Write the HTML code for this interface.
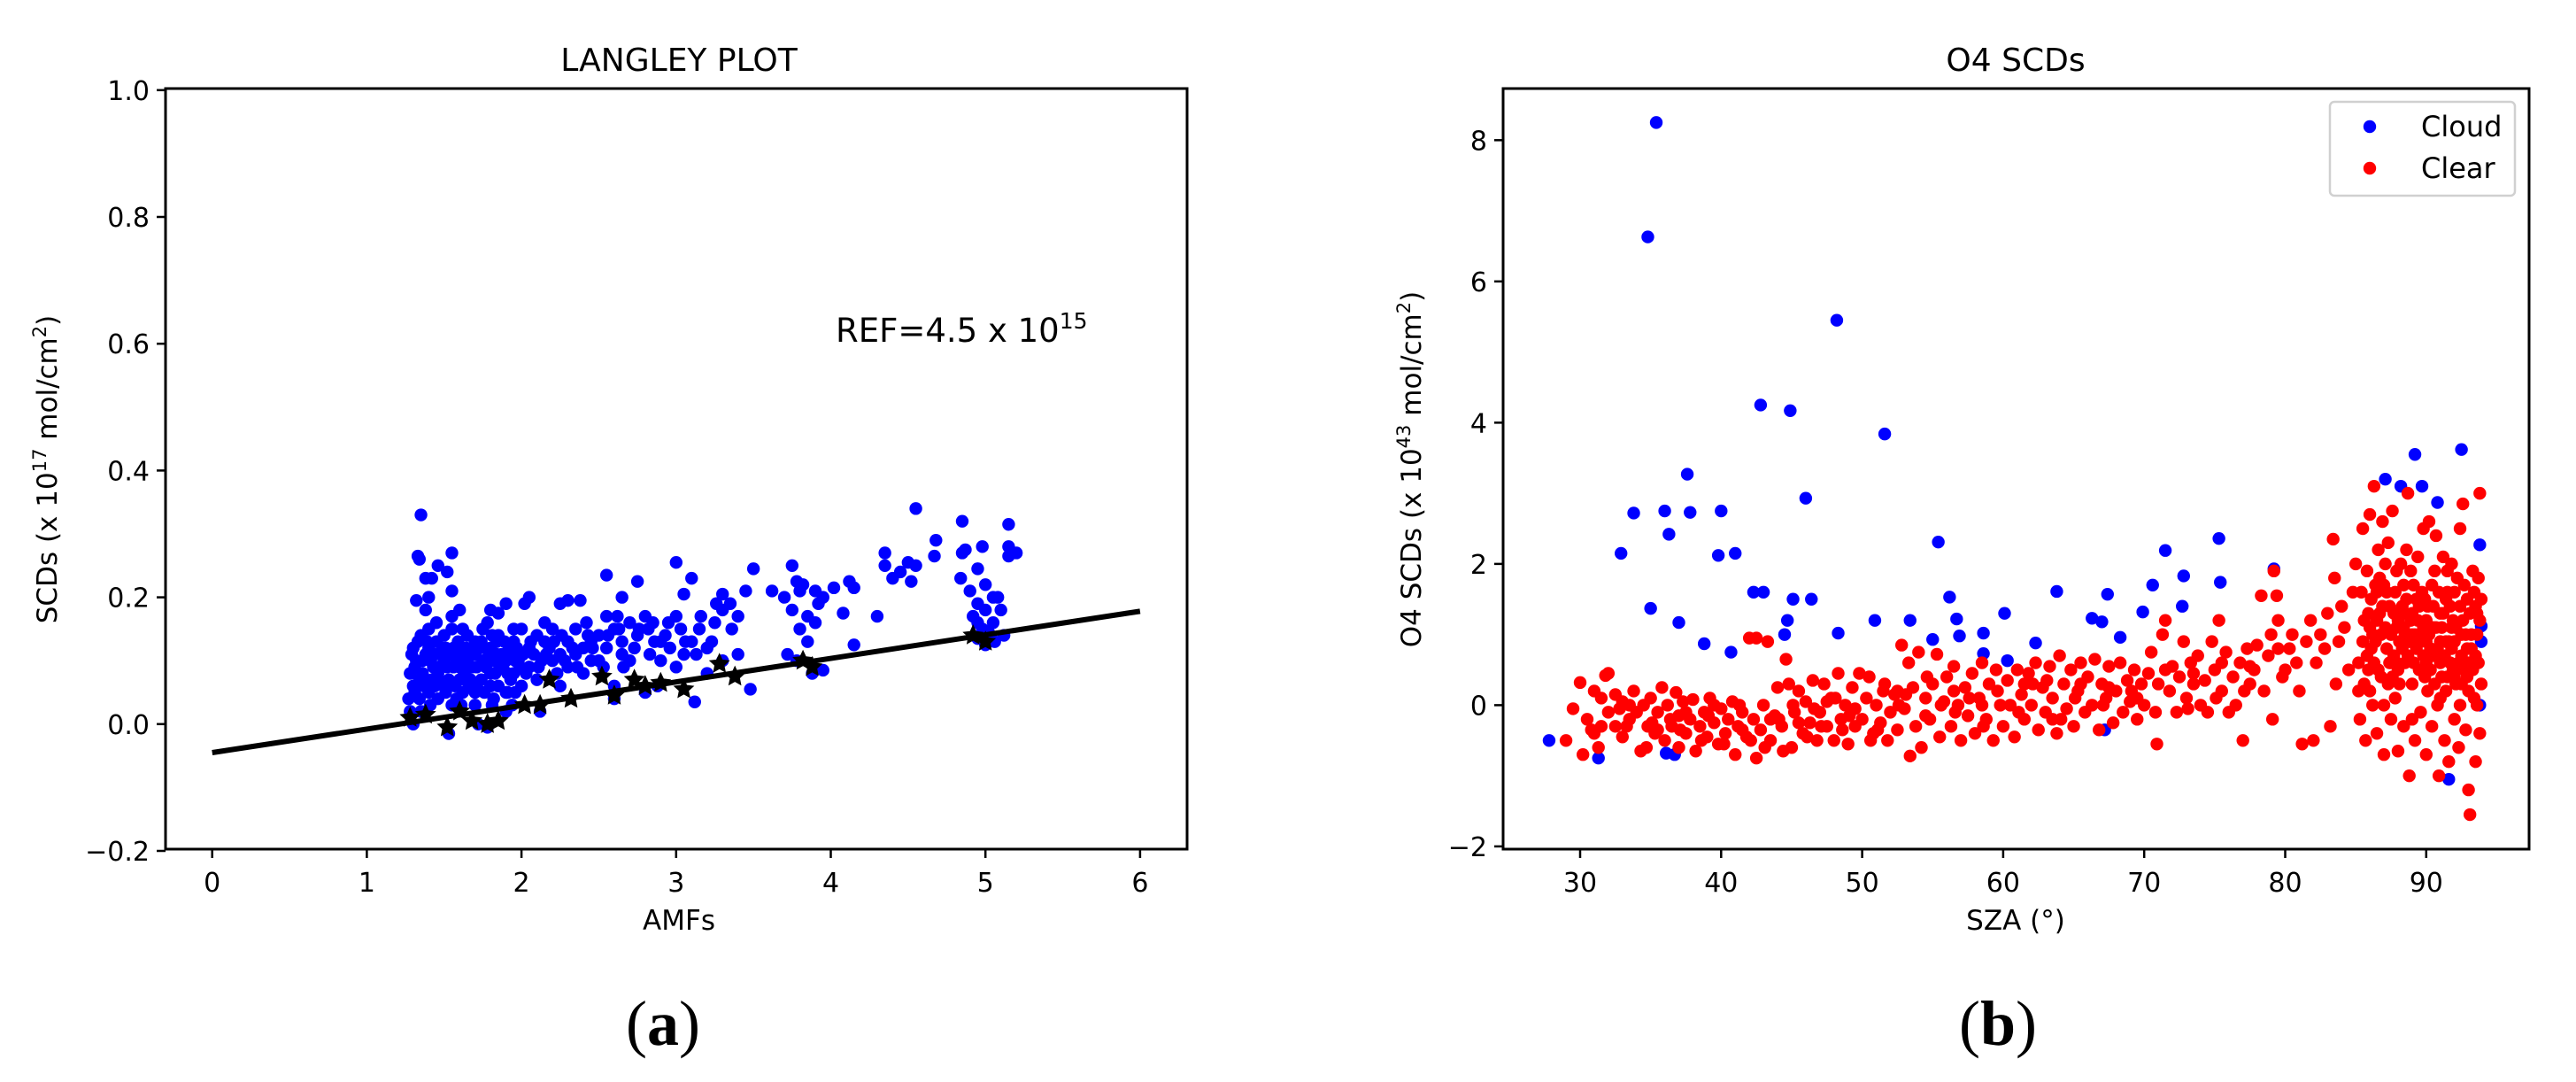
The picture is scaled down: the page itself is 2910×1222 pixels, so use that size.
<!DOCTYPE html>
<html><head><meta charset="utf-8">
<style>
html,body{margin:0;padding:0;background:#fff;}
svg{display:block;font-family:"DejaVu Sans","Liberation Sans",sans-serif;}
</style></head>
<body>
<svg id="fig" width="2910" height="1222" viewBox="0 0 2910 1222" xmlns="http://www.w3.org/2000/svg">
<rect width="2910" height="1222" fill="#fff"/>
<g id="left"></g>
<g id="right"></g>
<text x="749" y="1180" font-family="'Liberation Serif',serif" font-size="72" text-anchor="middle">(<tspan font-weight="bold">a</tspan>)</text>
<text x="2257" y="1180" font-family="'Liberation Serif',serif" font-size="72" text-anchor="middle">(<tspan font-weight="bold">b</tspan>)</text>
</svg>
<script>
// ---------- Panel (a) data ----------
const langleyXTicks = [0,1,2,3,4,5,6];
const langleyYTicks = [-0.2,0.0,0.2,0.4,0.6,0.8,1.0];
const langleyYTickLabels = ["\u22120.2","0.0","0.2","0.4","0.6","0.8","1.0"];
const langleyFitLine = [[0,-0.045],[6,0.178]];
const langleyBlue = [[1.35,0.33],[1.33,0.265],[1.34,0.26],[1.38,0.23],[1.42,0.23],[1.46,0.25],[1.52,0.24],[1.55,0.27],[1.55,0.21],[1.32,0.195],[1.4,0.2],[1.38,0.18],[1.6,0.18],[1.55,0.17],[1.8,0.18],[1.85,0.175],[1.9,0.19],[2.05,0.2],[2.02,0.19],[2.25,0.19],[2.3,0.195],[2.38,0.195],[2.55,0.235],[2.65,0.2],[2.75,0.225],[3.0,0.255],[3.05,0.205],[3.1,0.23],[3.3,0.205],[3.5,0.245],[3.45,0.21],[3.62,0.21],[3.75,0.25],[3.78,0.225],[3.82,0.22],[3.9,0.21],[4.02,0.215],[4.12,0.225],[4.15,0.215],[4.3,0.17],[4.35,0.27],[4.35,0.25],[4.4,0.23],[4.45,0.24],[4.5,0.255],[4.55,0.34],[4.55,0.25],[4.52,0.225],[4.68,0.29],[4.67,0.265],[4.85,0.32],[4.87,0.275],[4.85,0.27],[4.84,0.23],[4.9,0.21],[4.95,0.245],[4.98,0.28],[5.0,0.22],[5.15,0.315],[5.15,0.28],[5.15,0.265],[5.2,0.27],[5.05,0.2],[5.08,0.2],[4.95,0.19],[5.0,0.18],[5.05,0.16],[4.98,0.15],[5.12,0.14],[5.0,0.125],[4.95,0.135],[4.92,0.17],[4.08,0.175],[4.15,0.125],[3.95,0.085],[3.88,0.08],[3.85,0.13],[3.8,0.15],[3.78,0.1],[3.72,0.11],[3.7,0.2],[3.85,0.17],[3.92,0.19],[3.95,0.2],[3.48,0.055],[3.4,0.17],[3.35,0.19],[3.3,0.18],[3.25,0.16],[3.15,0.15],[3.12,0.035],[3.2,0.08],[3.1,0.13],[3.0,0.17],[2.95,0.16],[2.9,0.13],[2.88,0.06],[2.85,0.16],[2.8,0.17],[2.75,0.14],[2.7,0.16],[2.65,0.11],[2.6,0.15],[2.55,0.17],[2.5,0.14],[2.45,0.13],[2.4,0.12],[2.35,0.15],[2.3,0.13],[2.3,0.09],[2.25,0.11],[2.2,0.15],[2.15,0.13],[2.1,0.14],[2.1,0.07],[2.12,0.02],[2.05,0.12],[2.0,0.15],[1.95,0.13],[1.9,0.05],[1.9,0.02],[1.85,0.14],[1.8,0.12],[1.75,0.15],[1.7,0.13],[1.65,0.14],[1.6,0.12],[1.55,0.15],[1.5,0.14],[1.45,0.13],[1.4,0.15],[1.35,0.14],[1.3,0.12],[1.28,0.08],[1.27,0.04],[1.3,0.0],[1.35,0.02],[1.4,0.05],[1.45,0.09],[1.5,0.06],[1.53,-0.015],[1.55,0.03],[1.6,0.07],[1.65,0.1],[1.7,0.05],[1.72,0.0],[1.78,-0.005],[1.8,0.08],[1.85,0.06],[1.9,0.1],[1.95,0.08],[2.0,0.06],[2.05,0.09],[2.2,0.1],[2.25,0.06],[2.4,0.08],[2.5,0.1],[2.6,0.06],[2.6,0.04],[2.7,0.1],[2.8,0.05],[2.9,0.1],[3.0,0.09],[3.05,0.11],[3.2,0.12],[3.3,0.1],[3.4,0.11],[1.32,0.1],[1.38,0.11],[1.42,0.07],[1.48,0.11],[1.52,0.09],[1.58,0.1],[1.62,0.05],[1.68,0.09],[1.75,0.1],[1.82,0.1],[1.88,0.09],[1.92,0.12],[1.98,0.1],[1.3,0.06],[1.36,0.08],[1.44,0.11],[1.56,0.12],[1.66,0.11],[1.74,0.07],[1.84,0.13],[1.96,0.05],[2.08,0.11],[2.18,0.12],[2.28,0.1],[2.35,0.11],[2.45,0.1],[2.55,0.12],[2.65,0.13],[1.34,0.04],[1.46,0.04],[1.58,0.04],[1.7,0.03],[1.82,0.04],[1.94,0.03],[1.4,0.12],[1.5,0.1],[1.6,0.09],[1.7,0.11],[1.8,0.06],[1.33,0.13],[1.43,0.09],[1.53,0.07],[1.63,0.08],[1.73,0.12],[1.83,0.08],[1.93,0.07],[1.28,0.02],[1.37,0.06],[1.47,0.07],[1.57,0.06],[1.67,0.07],[1.77,0.09],[1.87,0.11],[1.97,0.12],[2.03,0.08],[2.13,0.1],[2.23,0.08],[1.31,0.09],[1.41,0.1],[1.51,0.12],[1.61,0.11],[1.71,0.09],[1.81,0.14],[1.91,0.08],[2.01,0.11],[2.11,0.09],[2.21,0.13],[2.33,0.12],[2.43,0.14],[2.53,0.09],[2.63,0.15],[2.73,0.12],[2.83,0.11],[2.93,0.14],[3.03,0.15],[3.13,0.11],[3.23,0.13],
[1.29,0.11],[1.39,0.13],[1.49,0.12],[1.59,0.13],[1.69,0.12],[1.79,0.11],[1.89,0.13],[1.99,0.09],[1.31,0.05],[1.41,0.03],[1.51,0.05],[1.61,0.03],[1.71,0.06],[1.81,0.03],[1.91,0.05],[1.36,0.1],[1.46,0.08],[1.56,0.09],[1.66,0.06],[1.76,0.05],[1.86,0.09],[1.96,0.1],[1.34,0.07],[1.44,0.06],[1.54,0.11],[1.64,0.12],[1.74,0.13],[1.84,0.11],[1.94,0.11],[2.06,0.13],[2.16,0.11],[2.26,0.14],[2.36,0.09],[2.46,0.12],[2.56,0.14],[2.66,0.09],[2.76,0.15],[2.86,0.13],[2.96,0.12],[3.06,0.13],[3.16,0.17],[3.26,0.19],[3.36,0.15],[3.8,0.21],[3.9,0.16],[3.75,0.18],[4.95,0.16],[5.02,0.145],[5.1,0.18],[5.06,0.13],[1.45,0.16],[1.62,0.15],[1.78,0.16],[1.95,0.15],[2.15,0.16],[2.42,0.16],[2.62,0.17],[2.82,0.15]];
const langleyStars = [[1.28,0.01],[1.38,0.015],[1.52,-0.005],[1.6,0.02],[1.68,0.005],[1.78,0.0],[1.85,0.005],[2.02,0.03],[2.12,0.03],[2.18,0.07],[2.32,0.04],[2.52,0.075],[2.6,0.045],[2.73,0.07],[2.8,0.06],[2.9,0.065],[3.05,0.055],[3.28,0.095],[3.38,0.075],[3.82,0.1],[3.88,0.09],[4.92,0.14],[5.0,0.13]];

// ---------- Panel (b) data ----------
const o4XTicks = [30,40,50,60,70,80,90];
const o4YTicks = [-2,0,2,4,6,8];
const o4YTickLabels = ["\u22122","0","2","4","6","8"];
const o4Cloud = [[27.8,-0.5],[31.3,-0.75],[32.9,2.15],[33.8,2.72],[35.0,1.37],[34.8,6.63],[35.4,8.25],[36.0,2.75],[36.3,2.42],[37.0,1.17],[37.6,3.27],[37.8,2.73],[38.8,0.87],[39.8,2.12],[40.0,2.75],[40.7,0.75],[41.0,2.15],[42.3,1.6],[42.8,4.25],[43.0,1.6],[44.5,1.0],[44.7,1.2],[44.9,4.17],[45.1,1.5],[46.0,2.93],[46.4,1.5],[48.2,5.45],[48.3,1.02],[50.9,1.2],[51.6,3.84],[53.4,1.2],[55.0,0.93],[55.4,2.31],[56.2,1.53],[56.7,1.22],[56.9,0.98],[58.6,1.02],[58.6,0.73],[60.1,1.3],[60.3,0.63],[62.3,0.88],[63.8,1.61],[66.3,1.23],[67.0,1.18],[67.4,1.57],[68.3,0.96],[69.9,1.32],[70.6,1.7],[71.5,2.19],[72.7,1.4],[72.8,1.83],[75.3,2.36],[75.4,1.74],[79.2,1.93],[87.1,3.2],[88.2,3.1],[89.2,3.55],[89.7,3.1],[90.8,2.87],[91.6,-1.05],[92.5,3.62],[93.8,2.27],[93.9,1.12],[93.9,0.9],[93.8,0.0],[67.2,-0.35],[36.1,-0.68],[36.7,-0.7]];
const o4Clear = [[29,-0.5],[29.5,-0.05],[30,0.32],[30.2,-0.7],[30.5,-0.2],[31,0.2],[31,-0.4],[31.3,-0.6],[31.5,0.1],[31.8,0.42],[32,0.45],[32,-0.1],[32.5,-0.3],[32.5,0.15],[33,-0.45],[33,0.05],[33.5,-0.2],[33.8,0.2],[34,-0.1],[34.3,-0.65],[34.5,0.0],[34.8,-0.3],[35,0.1],[35.3,-0.4],[35.5,-0.1],[35.8,0.25],[36,-0.5],[36.2,0.0],[36.5,-0.3],[36.8,0.18],[37,-0.6],[37,-0.15],[37.3,0.05],[37.5,-0.4],[37.8,-0.2],[38,0.08],[38.2,-0.65],[38.5,-0.3],[38.8,-0.1],[39,-0.45],[39.2,0.1],[39.5,-0.25],[39.8,-0.55],[40,-0.05],[30.8,-0.35],[32.8,-0.05],[34.7,-0.6],[36.4,-0.2],[38.6,-0.5],[33.3,-0.3],[35.1,-0.25],[37.1,-0.35],[39.1,-0.15],
[40.3,-0.4],[40.5,-0.2],[40.8,0.05],[41,-0.7],[41.2,-0.3],[41.5,-0.1],[41.8,-0.45],[42,0.95],[42.3,-0.2],[42.5,0.95],[42.5,-0.75],[42.8,-0.35],[43,0.0],[43.3,0.9],[43.5,-0.5],[43.8,-0.15],[44,0.25],[44.3,-0.3],[44.6,0.65],[44.8,0.3],[45,-0.6],[45.2,-0.1],[45.5,0.2],[45.8,-0.4],[46,0.05],[46.3,-0.25],[46.5,0.35],[46.8,-0.5],[47,-0.1],[47.3,0.3],[47.5,-0.3],[47.8,0.1],[48,-0.5],[48.3,0.45],[48.5,-0.2],[48.8,0.0],[49,-0.55],[49.3,0.25],[49.5,-0.3],[49.8,0.45],[40.2,-0.55],[41.3,0.0],[42.1,-0.5],[43.1,-0.6],[44.1,-0.2],[45.1,0.0],[46.1,-0.45],[47.1,-0.3],[48.1,0.1],[49.1,-0.15],[44.4,-0.65],[46.6,-0.05],[48.6,-0.35],
[50,-0.2],[50.3,0.1],[50.5,0.4],[50.8,-0.4],[51,0.0],[51.3,-0.25],[51.5,0.2],[51.8,-0.5],[52,-0.1],[52.3,0.15],[52.5,-0.35],[52.8,0.85],[53,-0.05],[53.3,0.6],[53.4,-0.72],[53.6,0.25],[53.8,-0.3],[54,0.75],[54.2,-0.6],[54.5,0.1],[54.8,-0.2],[55,0.3],[55.3,0.72],[55.5,-0.45],[55.8,0.05],[56,0.4],[56.3,-0.3],[56.5,0.55],[56.8,0.0],[57,-0.5],[57.3,0.25],[57.5,-0.15],[57.8,0.45],[58,-0.4],[58.3,0.1],[58.5,0.6],[58.8,-0.2],[59,0.3],[59.3,-0.5],[59.5,0.5],[59.8,0.0],[50.6,-0.5],[51.6,0.3],[52.6,0.0],[54.6,0.4],[55.6,0.0],[56.6,-0.1],[57.6,0.1],[58.6,-0.3],[59.6,0.2],[53.1,0.15],[51.1,-0.35],
[60,-0.3],[60.3,0.35],[60.5,0.0],[60.8,-0.45],[61,0.5],[61.3,0.15],[61.5,-0.2],[61.8,0.45],[62,0.0],[62.3,0.6],[62.5,-0.35],[62.8,0.25],[63,-0.1],[63.3,0.55],[63.5,0.1],[63.8,-0.4],[64,0.7],[64.3,0.3],[64.5,-0.05],[64.8,0.5],[65,-0.3],[65.3,0.2],[65.5,0.6],[65.8,-0.1],[66,0.4],[66.3,0.0],[66.5,0.65],[66.8,-0.35],[67,0.3],[67.3,0.1],[67.5,0.55],[67.8,-0.25],[68,0.2],[68.3,0.6],[68.5,-0.1],[68.8,0.35],[69,0.05],[69.3,0.5],[69.5,-0.2],[69.8,0.3],[61.1,-0.1],[63.1,0.35],[65.1,0.1],[67.1,0.0],[69.1,0.2],[62.1,0.3],[64.1,-0.2],
[70,0.0],[70.3,0.45],[70.5,0.75],[70.8,-0.1],[70.9,-0.55],[71,0.3],[71.3,1.0],[71.5,1.2],[71.8,0.2],[72,0.55],[72.3,-0.1],[72.5,0.4],[72.8,0.9],[73,0.1],[73.3,0.6],[73.5,0.3],[73.8,0.7],[74,0.0],[74.3,0.35],[74.5,-0.1],[74.8,0.9],[75,0.5],[75.3,1.2],[75.5,0.2],[75.8,0.75],[76,-0.1],[76.3,0.4],[76.5,0.0],[76.8,0.6],[77,-0.5],[77.3,0.8],[77.5,0.3],[77.8,0.5],[78,0.85],[78.3,1.55],[78.5,0.2],[78.8,0.7],[79,1.0],[79.2,1.9],[79.4,1.55],[79.5,1.2],[79.8,0.4],[73.1,-0.05],[75.1,0.1],[77.1,0.2],[79.1,-0.2],
[80,0.5],[80.3,0.8],[80.5,1.0],[80.8,0.6],[81,0.2],[81.2,-0.55],[81.5,0.9],[81.8,1.2],[82,-0.5],[82.2,0.6],[82.5,1.0],[82.8,0.8],[83,1.3],[83.2,-0.3],[83.4,2.35],[83.5,1.8],[83.6,0.3],[83.8,0.9],[84,1.4],[84.2,1.1],[84.5,0.5],[84.8,1.6],
[85,2.0],[85.2,0.2],[85.3,-0.2],[85.5,2.5],[85.6,1.2],[85.7,-0.5],[85.8,0.7],[86,2.7],[86.1,1.5],[86.2,0.0],[86.3,3.1],[86.4,0.9],[86.5,-0.4],[86.6,2.2],[86.7,1.8],[86.8,0.4],[86.9,2.6],[87,-0.7],[87.1,1.1],[87.2,1.6],[87.3,2.3],[87.4,0.6],[87.5,-0.2],[87.6,2.75],[87.7,1.3],[87.8,0.1],[87.9,1.9],[88,-0.65],[88.1,0.9],[88.2,2.0],[88.3,1.4],[88.4,-0.3],[88.5,0.6],[88.6,2.2],[88.7,3.0],[88.8,-1.0],[88.9,1.2],[89,0.3],[89.1,1.7],[89.2,-0.5],[89.3,0.8],[89.4,2.1],[89.5,1.0],[89.6,-0.1],[89.7,0.5],[89.8,2.5],[89.9,1.5],[90,-0.7],[90.1,0.2],[90.2,2.6],[90.3,1.1],[90.4,-0.3],[90.5,0.7],[90.6,1.9],[90.7,2.4],[90.8,0.0],[90.9,-1.0],[91,1.3],[91.1,0.4],[91.2,2.1],[91.3,-0.5],[91.4,0.9],[91.5,1.6],[91.6,-0.8],[91.7,0.6],[91.8,2.0],[91.9,1.2],[92,-0.2],[92.1,0.3],[92.2,1.8],[92.3,-0.6],[92.4,2.5],[92.5,1.0],[92.6,2.85],[92.7,0.5],[92.8,-0.35],[92.9,1.5],[93,-1.2],[93.1,-1.55],[93.2,0.8],[93.3,1.9],[93.4,0.1],[93.5,-0.8],[93.6,1.3],[93.7,0.6],[93.8,3.0],[93.9,1.5],[93.9,0.3],[93.8,-0.4],
[85.5,0.9],[85.9,1.3],[86.2,1.0],[86.6,0.5],[86.9,1.4],[87.2,0.8],[87.5,1.0],[87.8,1.6],[88.1,0.3],[88.4,1.1],[88.7,0.7],[89,1.3],[89.3,1.5],[89.6,0.9],[89.9,0.4],[90.2,1.0],[90.5,1.4],[90.8,0.8],[91.1,1.1],[91.4,0.2],[91.7,1.4],[92,0.9],[92.3,0.6],[92.6,1.2],[92.9,0.4],[93.2,1.0],[93.5,0.7],[93.8,1.2],[86,0.2],[87,0.0],[88,0.5],[89,-0.2],[90,0.6],[91,0.1],[92,1.6],[93,0.2],[86.4,1.7],[87.4,1.4],[88.4,1.7],[89.4,1.2],[90.4,1.7],[91.4,1.5],[92.4,0.0],[93.4,1.6],[85.4,1.6],[85.2,0.6],[86.8,1.0],[87.6,0.4],[88.8,0.9],[89.7,1.6],[90.6,0.3],[91.6,0.9],[92.7,1.7],[93.6,0.0],
[85.8,1.9],[86.5,1.2],[87.1,2.0],[87.9,1.1],[88.5,1.3],[89.1,0.6],[89.8,1.1],[90.3,0.5],[90.9,1.6],[91.3,0.7],[91.9,0.5],[92.5,0.3],[93.1,1.3],[93.7,1.8],[86.3,0.6],[87.7,0.7],[88.9,1.9],[90.1,1.4],[91.5,1.9],[92.8,1.0],
[85.6,0.3],[86.1,0.8],[86.7,1.3],[87.3,0.3],[87.9,0.6],[88.3,0.8],[88.6,1.5],[89.2,1.0],[89.5,0.5],[90.0,1.2],[90.3,0.8],[90.7,1.1],[91.0,0.6],[91.2,1.3],[91.8,0.8],[92.1,1.1],[92.4,1.4],[92.9,0.8],[93.3,0.5],[93.6,1.0],[86.0,1.1],[87.0,1.7],[88.0,1.2],[89.0,1.0],[90.0,0.9],[91.0,0.9],[92.0,0.4],[93.0,0.6],[85.9,0.5],[86.5,1.6],[87.5,0.6],[88.5,1.0],[89.5,1.4],[90.5,1.1],[91.5,0.4],[92.5,0.7],[93.5,1.4],[87.8,1.3],[89.8,0.7],[91.8,1.1],
[31.5,-0.3],[33.5,0.0],[35.5,-0.35],[37.5,-0.1],[39.5,0.0],[41.5,-0.35],[43.5,-0.2],[45.5,-0.25],[47.5,0.05],[49.5,-0.05],[52.5,0.2],[54.5,-0.15],[56.5,0.2],[58.5,0.0],[61.5,0.3],[63.5,-0.2],[65.5,0.3],[67.5,0.25],[69.5,0.1],[71.5,0.5],[73.5,0.45],[75.5,0.6],[77.5,0.55],[79.5,0.8]];

const NS = "http://www.w3.org/2000/svg";
function mk(tag, attrs, parent){ const e=document.createElementNS(NS,tag); for(const k in attrs) e.setAttribute(k,attrs[k]); parent.appendChild(e); return e; }

const L = {x0:187,x1:1341,y0:100,y1:959};
const lsx = v => 239.7 + v*174.7;
const lsy = v => 817.8 - v*716;
const R = {x0:1698,x1:2857,y0:100,y1:959};
const rsx = v => 1785 + (v-30)*15.93;
const rsy = v => 796.4 - v*79.76;
const DOT = 7.2;

function starPath(cx,cy,ro,ri){
  let d="";
  for(let i=0;i<10;i++){
    const r = i%2===0?ro:ri; const a = -Math.PI/2 + i*Math.PI/5;
    d += (i?"L":"M") + (cx+r*Math.cos(a)).toFixed(1) + " " + (cy+r*Math.sin(a)).toFixed(1);
  }
  return d+"Z";
}

function drawAxes(g, box, xticks, xlabels, sx, yticks, ylabels, sy, name){
  for(let i=0;i<xticks.length;i++){
    const x=sx(xticks[i]);
    const t=mk("line",{x1:x,x2:x,y1:box.y1,y2:box.y1+10,stroke:"#000","stroke-width":2.5},g);
    
    
    const lb=mk("text",{x:x,y:box.y1+48,"font-size":30,"text-anchor":"middle"},g);
    lb.textContent=xlabels[i];
    
    
  }
  for(let i=0;i<yticks.length;i++){
    const y=sy(yticks[i]);
    const t=mk("line",{x1:box.x0-10,x2:box.x0,y1:y,y2:y,stroke:"#000","stroke-width":2.5},g);
    
    
    const lb=mk("text",{x:box.x0-18,y:y+11,"font-size":30,"text-anchor":"end"},g);
    lb.textContent=ylabels[i];
    
    
  }
}

const gl = document.getElementById("left");
drawAxes(gl, L, langleyXTicks, langleyXTicks.map(String), lsx, langleyYTicks, langleyYTickLabels, lsy, "langley");
for(const p of langleyBlue){
  const c=mk("circle",{cx:lsx(p[0]),cy:lsy(p[1]),r:DOT,fill:"#0000ff"},gl);
  
  
}
const fl=mk("line",{x1:lsx(langleyFitLine[0][0]),y1:lsy(langleyFitLine[0][1]),x2:lsx(langleyFitLine[1][0]),y2:lsy(langleyFitLine[1][1]),stroke:"#000","stroke-width":6},gl);


for(const p of langleyStars){
  const s=mk("path",{d:starPath(lsx(p[0]),lsy(p[1]),12.5,6),fill:"#000"},gl);
  
  
}
const fr1=mk("rect",{x:L.x0,y:L.y0,width:L.x1-L.x0,height:L.y1-L.y0,fill:"none",stroke:"#000","stroke-width":3},gl);



const gr = document.getElementById("right");
drawAxes(gr, R, o4XTicks, o4XTicks.map(String), rsx, o4YTicks, o4YTickLabels, rsy, "o4");
for(const p of o4Cloud){
  const c=mk("circle",{cx:rsx(p[0]),cy:rsy(p[1]),r:DOT,fill:"#0000ff"},gr);
  
  
}
for(const p of o4Clear){
  const c=mk("circle",{cx:rsx(p[0]),cy:rsy(p[1]),r:DOT,fill:"#ff0000"},gr);
  
  
}
const fr2=mk("rect",{x:R.x0,y:R.y0,width:R.x1-R.x0,height:R.y1-R.y0,fill:"none",stroke:"#000","stroke-width":3},gr);


</script>
<script>
(function(){
  const svg=document.getElementById("fig");
  svg.insertAdjacentHTML("beforeend", `
  <text x="767" y="80" font-size="36" text-anchor="middle">LANGLEY PLOT</text>
  <text x="767" y="1050" font-size="31" text-anchor="middle">AMFs</text>
  <text transform="translate(64,530) rotate(-90)" font-size="31" text-anchor="middle">SCDs (x 10<tspan font-size="21" dy="-12">17</tspan><tspan dy="12"> mol/cm</tspan><tspan font-size="21" dy="-12">2</tspan><tspan dy="12">)</tspan></text>
  <text x="944" y="386" font-size="37">REF=4.5 x 10<tspan font-size="25" dy="-15">15</tspan></text>
  <text x="2277" y="80" font-size="36" text-anchor="middle">O4 SCDs</text>
  <text x="2277" y="1050" font-size="31" text-anchor="middle">SZA (°)</text>
  <text transform="translate(1605,530) rotate(-90)" font-size="31" text-anchor="middle">O4 SCDs (x 10<tspan font-size="21" dy="-12">43</tspan><tspan dy="12"> mol/cm</tspan><tspan font-size="21" dy="-12">2</tspan><tspan dy="12">)</tspan></text>
  <g>
    <rect x="2632" y="115" width="209" height="106" rx="5" fill="#fff" fill-opacity="0.8" stroke="#d0d0d0" stroke-width="2.5"/>
    <circle cx="2677" cy="143" r="7.2" fill="#0000ff"/>
    <text x="2735" y="154" font-size="32">Cloud</text>
    <circle cx="2677" cy="190" r="7.2" fill="#ff0000"/>
    <text x="2735" y="201" font-size="32">Clear</text>
  </g>`);
})();
</script>
</body></html>
